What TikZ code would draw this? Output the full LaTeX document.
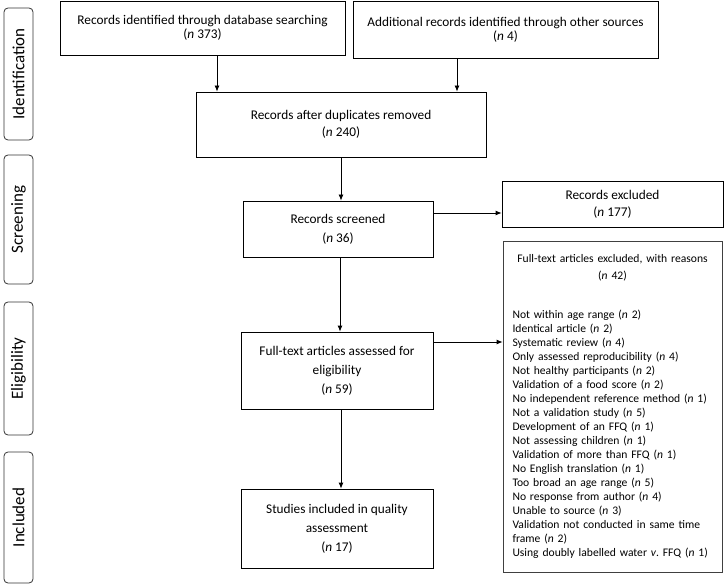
\documentclass[tikz,border=0pt]{standalone}
\usepackage{fontspec}
\setmainfont{Carlito}
\usetikzlibrary{arrows.meta, positioning, calc}

\begin{document}
\begin{tikzpicture}[x=1pt, y=-1pt,
    box/.style={draw=black, line width=0.8pt, align=center, inner sep=2pt, font=\fontsize{13.3}{18}\selectfont},
    phase/.style={draw=black!80, line width=0.8pt, rounded corners=4pt, rotate=90, minimum height=29pt, inner sep=0pt, font=\fontsize{17}{18}\selectfont},
    arr/.style={-{Latex[length=6pt, width=5pt]}, line width=0.8pt}]
  \useasboundingbox (0,0) rectangle (725,585);

  \node[phase, minimum width=132pt] (ident) at (18.5,74) {Identification};
  \node[phase, minimum width=129pt] (scr) at (18.5,219.5) {Screening};
  \node[phase, minimum width=133pt] (elig) at (18.5,368.5) {Eligibility};
  \node[phase, minimum width=131pt] (inc) at (18.5,517.5) {Included};

  \node[box, minimum width=285pt, minimum height=54pt, font=\fontsize{13.3}{14}\selectfont] (db) at (202.5,28) {Records identified through database searching\\(\emph{n} 373)};
  \node[box, minimum width=305pt, minimum height=57pt, font=\fontsize{13.3}{14}\selectfont] (other) at (505.5,29.5) {Additional records identified through other sources\\(\emph{n} 4)};
  \node[box, minimum width=290pt, minimum height=65pt, font=\fontsize{13.3}{17}\selectfont] (dup) at (341,124.5) {Records after duplicates removed\\(\emph{n} 240)};
  \node[box, minimum width=190pt, minimum height=56pt, font=\fontsize{13.3}{19}\selectfont] (screen) at (338,229) {Records screened\\(\emph{n} 36)};
  \node[box, minimum width=221pt, minimum height=46pt, font=\fontsize{13.3}{17}\selectfont] (recexcl) at (612.5,204) {Records excluded\\(\emph{n} 177)};
  \node[box, minimum width=192pt, minimum height=77pt, font=\fontsize{13.3}{19}\selectfont] (fulltext) at (337,370.5) {Full-text articles assessed for\\eligibility\\(\emph{n} 59)};
  \node[box, minimum width=192pt, minimum height=79pt, font=\fontsize{13.3}{19}\selectfont] (incl) at (337,528.5) {Studies included in quality\\assessment\\(\emph{n} 17)};
  \node[box, draw=black!75, minimum width=219pt, minimum height=331pt, text width=200pt, align=left, font=\fontsize{11.6}{14}\selectfont] (reasons) at (612.5,406.5) {%
    {\centering\fontsize{11.6}{17}\selectfont Full-text articles excluded, with reasons\\(\emph{n} 42)\par}
    \vspace{25pt}
    Not within age range (\emph{n} 2)\\
    Identical article (\emph{n} 2)\\
    Systematic review (\emph{n} 4)\\
    Only assessed reproducibility (\emph{n} 4)\\
    Not healthy participants (\emph{n} 2)\\
    Validation of a food score (\emph{n} 2)\\
    No independent reference method (\emph{n} 1)\\
    Not a validation study (\emph{n} 5)\\
    Development of an FFQ (\emph{n} 1)\\
    Not assessing children (\emph{n} 1)\\
    Validation of more than FFQ (\emph{n} 1)\\
    No English translation (\emph{n} 1)\\
    Too broad an age range (\emph{n} 5)\\
    No response from author (\emph{n} 4)\\
    Unable to source (\emph{n} 3)\\
    Validation not conducted in same time\\
    frame (\emph{n} 2)\\
    Using doubly labelled water \emph{v}.\ FFQ (\emph{n} 1)};

  \draw[arr] ([xshift=14.5pt]db.south) -- ([xshift=14.5pt]db.south |- dup.north);
  \draw[arr] ([xshift=-48.5pt]other.south) -- ([xshift=-48.5pt]other.south |- dup.north);
  \draw[arr] (dup.south) -- (dup.south |- screen.north);
  \draw[arr] ([yshift=16pt]screen.east) -- ([yshift=16pt]screen.east -| recexcl.west);
  \draw[arr] ([xshift=2pt]screen.south) -- ([xshift=2pt]screen.south |- fulltext.north);
  \draw[arr] ([yshift=28.5pt]fulltext.east) -- ([yshift=28.5pt]fulltext.east -| reasons.west);
  \draw[arr] ([xshift=4pt]fulltext.south) -- ([xshift=4pt]fulltext.south |- incl.north);
\end{tikzpicture}
\end{document}
